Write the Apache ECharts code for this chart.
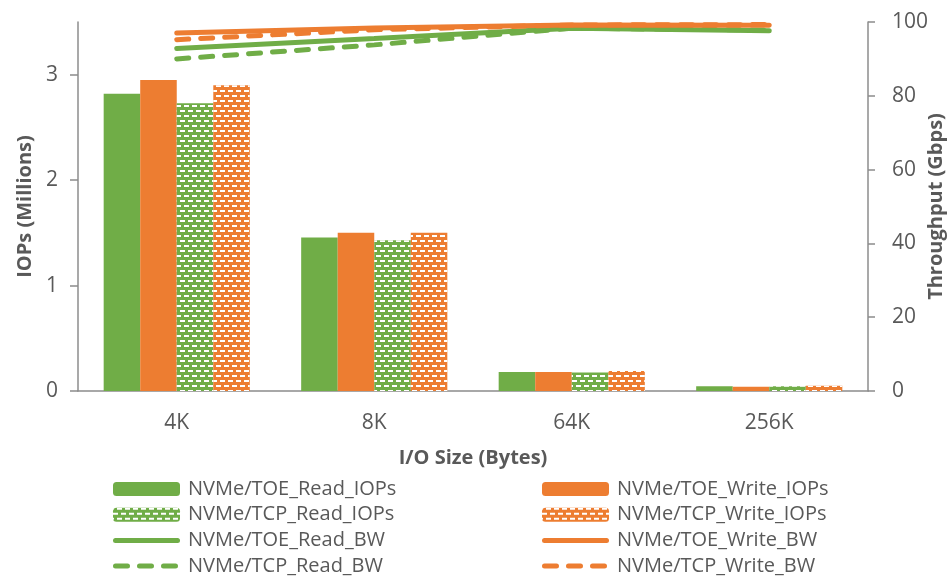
<!DOCTYPE html>
<html>
<head>
<meta charset="utf-8">
<script src="https://cdn.jsdelivr.net/npm/echarts@6/dist/echarts.min.js"></script>
<style>
  html, body { margin: 0; padding: 0; background: #fff; }
  #main { width: 951px; height: 577px; }
</style>
</head>
<body>
<div id="main"></div>
<script>
// categories and values
var sizes = ['4K', '8K', '64K', '256K'];
var toeReadIops = [2.82, 1.455, 0.18, 0.045];
var toeWriteIops = [2.95, 1.50, 0.18, 0.04];
var tcpReadIops = [2.73, 1.43, 0.175, 0.045];
var tcpWriteIops = [2.90, 1.50, 0.19, 0.05];
var toeReadBw = [92.8, 95.5, 98.3, 97.6];
var tcpReadBw = [90.0, 93.8, 98.3, 97.8];
var toeWriteBw = [97.0, 98.4, 99.2, 99.1];
var tcpWriteBw = [95.2, 97.9, 99.2, 99.3];
var leftTicks = [0, 1, 2, 3];

var green = '#70AD47';
var orange = '#ED7D31';
var gray = '#8c8c8c';
var txt = '#595959';
var font = 'Open Sans';

// legend icons for the lines (the two lone M points keep the 67x14 box)
var solidIcon = 'path://M0,0M67,14M2.5,4.5h62a2.5,2.5 0 0 1 0,5h-62a2.5,2.5 0 0 1 0,-5z';
var dashIcon = 'path://M0,0M67,14' +
    'M2.5,4.5h12a2.5,2.5 0 0 1 0,5h-12a2.5,2.5 0 0 1 0,-5z' +
    'M26.5,4.5h12a2.5,2.5 0 0 1 0,5h-12a2.5,2.5 0 0 1 0,-5z' +
    'M50.5,4.5h12a2.5,2.5 0 0 1 0,5h-12a2.5,2.5 0 0 1 0,-5z';

var brick = {
    symbol: 'rect',
    symbolSize: 1,
    color: '#ffffff',
    dashArrayX: [[5, 3], [1, 3, 4, 0]],
    dashArrayY: [2, 3],
    rotation: 0
};

function bar(name, data, color, pattern) {
    return {
        name: name,
        type: 'bar',
        yAxisIndex: 0,
        data: data,
        barGap: '0%',
        barCategoryGap: '26%',
        itemStyle: { color: color, decal: pattern ? brick : null }
    };
}

function line(name, data, color, dashed) {
    return {
        name: name,
        type: 'line',
        yAxisIndex: 1,
        data: data,
        symbol: 'none',
        lineStyle: {
            color: color,
            width: 5,
            cap: 'round',
            type: dashed ? [12, 12] : 'solid'
        },
        itemStyle: { color: color }
    };
}

function legendCol(left, names) {
    return {
        orient: 'vertical',
        left: left,
        top: 479,
        height: 140,
        padding: 0,
        itemWidth: 67,
        itemHeight: 14,
        itemGap: 5.7,
        textStyle: { fontSize: 20, color: txt, fontFamily: font, padding: [0, 0, 0, 3] },
        data: [
            { name: names[0] },
            { name: names[1] },
            { name: names[2], icon: solidIcon },
            { name: names[3], icon: dashIcon }
        ]
    };
}

var myChart = echarts.init(document.getElementById('main'));
myChart.setOption({
    animation: false,
    textStyle: { fontFamily: font },
    grid: { left: 78, right: 83, top: 22, bottom: 186, outerBoundsMode: 'none', containLabel: false },
    legend: [
        legendCol(113, ['NVMe/TOE_Read_IOPs', 'NVMe/TCP_Read_IOPs', 'NVMe/TOE_Read_BW', 'NVMe/TCP_Read_BW']),
        legendCol(542, ['NVMe/TOE_Write_IOPs', 'NVMe/TCP_Write_IOPs', 'NVMe/TOE_Write_BW', 'NVMe/TCP_Write_BW'])
    ],
    xAxis: {
        type: 'category',
        data: sizes,
        name: 'I/O Size (Bytes)',
        nameLocation: 'middle',
        nameGap: 57,
        nameTextStyle: { fontSize: 20, fontWeight: 'bold', color: txt, fontFamily: font },
        axisLine: { lineStyle: { color: gray, width: 1.5 } },
        axisTick: { alignWithLabel: true, length: 5, lineStyle: { color: gray, width: 1.5 } },
        axisLabel: { fontSize: 21, color: txt, margin: 22 }
    },
    yAxis: [{
        type: 'value',
        min: 0,
        max: 3.5,
        interval: 1,
        name: 'IOPs (Millions)',
        nameLocation: 'middle',
        nameGap: 42,
        nameTextStyle: { fontSize: 20, fontWeight: 'bold', color: txt, fontFamily: font },
        axisLine: { show: true, lineStyle: { color: gray, width: 1.5 } },
        axisTick: { show: true, length: 8, customValues: leftTicks, lineStyle: { color: gray, width: 1.5 } },
        axisLabel: { fontSize: 21, color: txt, margin: 20, customValues: leftTicks },
        splitLine: { show: false }
    }, {
        type: 'value',
        min: 0,
        max: 100,
        interval: 20,
        name: 'Throughput (Gbps)',
        nameLocation: 'middle',
        nameGap: 58,
        nameMoveOverlap: false,
        nameTextStyle: { fontSize: 20, fontWeight: 'bold', color: txt, fontFamily: font },
        axisLine: { show: true, lineStyle: { color: gray, width: 1.5 } },
        axisTick: { show: true, length: 7, lineStyle: { color: gray, width: 1.5 } },
        axisLabel: { fontSize: 21, color: txt, margin: 24 },
        splitLine: { show: false }
    }],
    series: [
        bar('NVMe/TOE_Read_IOPs', toeReadIops, green, false),
        bar('NVMe/TOE_Write_IOPs', toeWriteIops, orange, false),
        bar('NVMe/TCP_Read_IOPs', tcpReadIops, green, true),
        bar('NVMe/TCP_Write_IOPs', tcpWriteIops, orange, true),
        line('NVMe/TOE_Read_BW', toeReadBw, green, false),
        line('NVMe/TCP_Read_BW', tcpReadBw, green, true),
        line('NVMe/TOE_Write_BW', toeWriteBw, orange, false),
        line('NVMe/TCP_Write_BW', tcpWriteBw, orange, true)
    ]
});
</script>
</body>
</html>
